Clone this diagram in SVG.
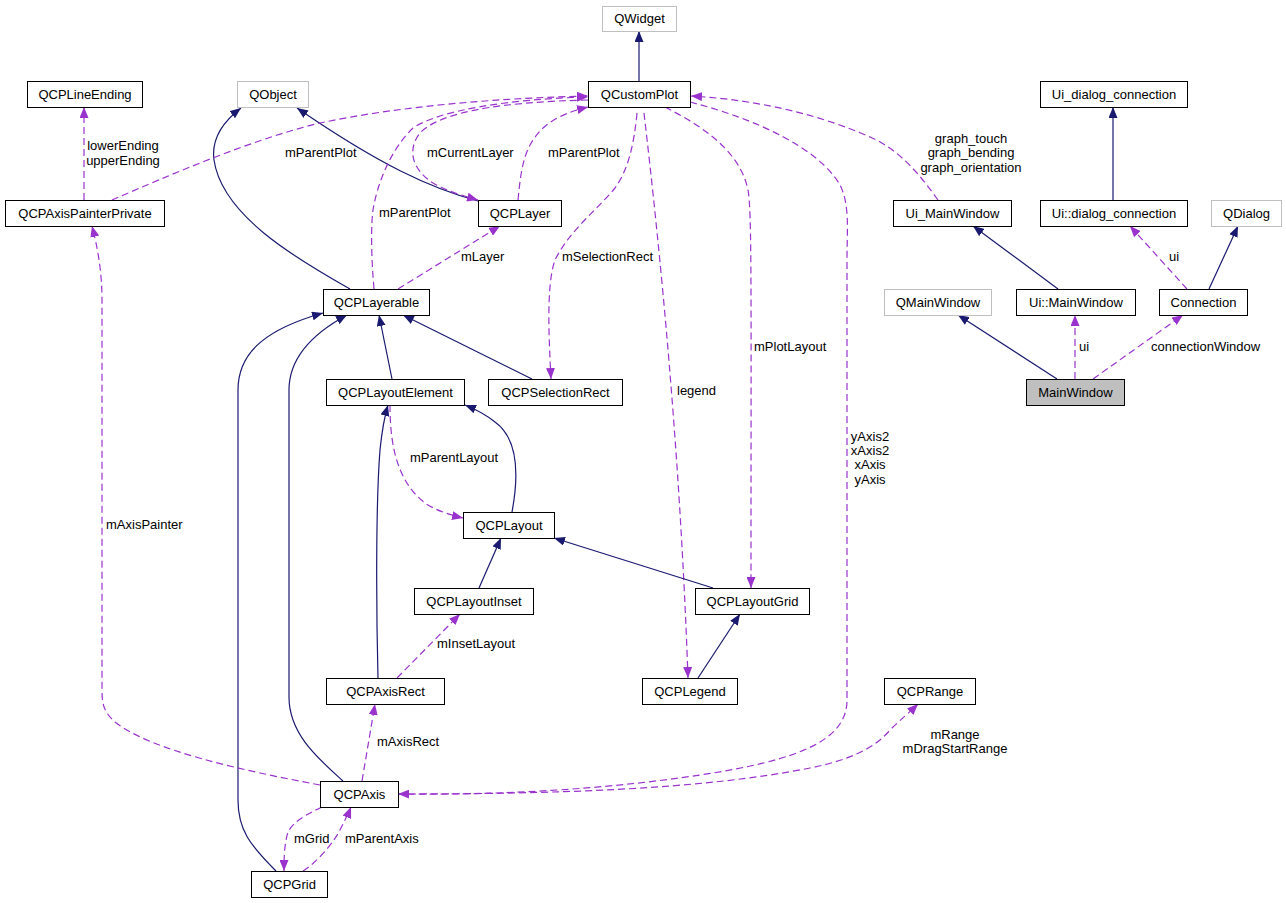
<svg xmlns="http://www.w3.org/2000/svg" width="1286" height="903" viewBox="0 0 1286 903">
<style>
.n rect{fill:#fff;stroke:#000;stroke-width:1}
.n.g rect{stroke:#bfbfbf}
.n.sel rect{fill:#bfbfbf}
text{font-family:"Liberation Sans",Arial,sans-serif;font-size:13px;fill:#000}
.n text{text-anchor:middle}
.inh{fill:none;stroke:#191970;stroke-width:1.2;marker-end:url(#an)}
.use{fill:none;stroke:#9a32cd;stroke-width:1.2;stroke-dasharray:7,4;marker-end:url(#ap)}
.lbl{text-anchor:start}
.lc{text-anchor:middle}
</style>
<defs>
<marker id="an" markerWidth="11" markerHeight="9" refX="11" refY="4.5" orient="auto" markerUnits="userSpaceOnUse"><path d="M0,0 L11,4.5 L0,9 z" fill="#191970"/></marker>
<marker id="ap" markerWidth="11" markerHeight="9" refX="11" refY="4.5" orient="auto" markerUnits="userSpaceOnUse"><path d="M0,0 L11,4.5 L0,9 z" fill="#9a32cd"/></marker>
</defs>
<rect width="1286" height="903" fill="#fff"/>
<g id="connectors">
<path class="inh" d="M639,81 L639,31"/>
<path class="inh" d="M350,289 C295,258 222,215 214,160 C211,138 224,121 241,108"/>
<path class="inh" d="M478,201 C430,188 380,165 297,108"/>
<path class="use" d="M374,289 C371,255 371,225 373,210 C377,185 390,150 413,128 C440,110 510,99 588,97"/>
<path class="use" d="M112,200 C170,175 250,140 320,123 C400,106 500,98 588,96"/>
<path class="use" d="M84,200 L84,107"/>
<path class="use" d="M588,100 C500,102 440,112 420,133 C408,148 410,168 433,183 C445,190 460,195 478,200"/>
<path class="use" d="M518,200 C520,180 522,160 530,145 C540,127 555,115 588,107"/>
<path class="use" d="M398,289 L500,226"/>
<path class="inh" d="M532,379 L403,315"/>
<path class="inh" d="M392,379 L379,315"/>
<path class="use" d="M637,113 C634,145 628,170 615,188 C595,212 570,230 555,260 C546,285 549,340 551,379"/>
<path class="use" d="M644,113 C660,250 680,450 688,678"/>
<path class="use" d="M665,107 C700,125 740,150 748,190 C752,210 751,300 751,588"/>
<path class="use" d="M690,102 C760,120 820,150 840,185 C850,205 847,230 847,260 L847,700 C847,740 800,760 700,775 C600,790 500,795 398,794"/>
<path class="use" d="M938,200 C920,175 900,150 870,137 C820,115 760,100 691,96"/>
<path class="inh" d="M1113,200 L1113,107"/>
<path class="inh" d="M1058,289 L973,226"/>
<path class="inh" d="M1209,289 L1238,226"/>
<path class="use" d="M1187,289 L1130,226"/>
<path class="inh" d="M1057,379 L958,315"/>
<path class="use" d="M1075,379 L1075,315"/>
<path class="use" d="M1093,379 L1183,315"/>
<path class="inh" d="M512,512 C518,480 520,440 495,422 C485,414 475,409 465,405"/>
<path class="use" d="M390,405 C390,440 395,480 425,503 C435,510 450,515 463,518"/>
<path class="inh" d="M479,588 L501,538"/>
<path class="inh" d="M713,588 L554,538"/>
<path class="inh" d="M378,678 C376,600 376,500 380,450 C382,430 385,415 388,405"/>
<path class="use" d="M397,678 L460,614"/>
<path class="inh" d="M698,678 L740,614"/>
<path class="use" d="M362,781 L375,704"/>
<path class="inh" d="M343,781 C320,760 289,735 289,697 L289,390 C289,360 310,335 347,315"/>
<path class="inh" d="M276,871 C250,845 238,830 238,800 L238,390 C238,350 270,328 323,313"/>
<path class="use" d="M320,785 C240,770 150,750 115,722 C104,712 102,705 102,690 L102,300 C102,270 97,245 92,226"/>
<path class="use" d="M322,807 C305,815 293,822 288,832 C284,845 284,860 284,871"/>
<path class="use" d="M303,871 C320,860 335,840 340,830 C345,820 349,812 351,807"/>
<path class="use" d="M398,794 C550,794 700,790 810,768 C850,760 875,748 890,730 C900,720 910,712 918,704"/>
<text class="lbl" x="285" y="157">mParentPlot</text>
<text class="lbl" x="379" y="217">mParentPlot</text>
<text class="lbl" x="427" y="157">mCurrentLayer</text>
<text class="lbl" x="548" y="157">mParentPlot</text>
<text class="lc" x="123" y="150">lowerEnding</text>
<text class="lc" x="123" y="165">upperEnding</text>
<text class="lbl" x="461" y="261">mLayer</text>
<text class="lbl" x="562" y="261">mSelectionRect</text>
<text class="lbl" x="677" y="395">legend</text>
<text class="lbl" x="754" y="351">mPlotLayout</text>
<text class="lc" x="870" y="441">yAxis2</text>
<text class="lc" x="870" y="455">xAxis2</text>
<text class="lc" x="870" y="469">xAxis</text>
<text class="lc" x="870" y="484">yAxis</text>
<text class="lc" x="971" y="143">graph_touch</text>
<text class="lc" x="971" y="157">graph_bending</text>
<text class="lc" x="971" y="172">graph_orientation</text>
<text class="lbl" x="1169" y="261">ui</text>
<text class="lbl" x="1079" y="351">ui</text>
<text class="lbl" x="1151" y="351">connectionWindow</text>
<text class="lbl" x="410" y="462">mParentLayout</text>
<text class="lbl" x="106" y="529">mAxisPainter</text>
<text class="lbl" x="437" y="648">mInsetLayout</text>
<text class="lbl" x="377" y="746">mAxisRect</text>
<text class="lc" x="955" y="739">mRange</text>
<text class="lc" x="955" y="753">mDragStartRange</text>
<text class="lbl" x="294" y="843">mGrid</text>
<text class="lbl" x="345" y="843">mParentAxis</text>
</g>
<g id="QWidget" class="n g"><rect x="602.5" y="6.5" width="74" height="25"/><text x="639.5" y="23">QWidget</text></g>
<g id="QCustomPlot" class="n"><rect x="588.5" y="81.5" width="102" height="26"/><text x="639.5" y="99">QCustomPlot</text></g>
<g id="QCPLineEnding" class="n"><rect x="27.5" y="81.5" width="115" height="26"/><text x="85" y="99">QCPLineEnding</text></g>
<g id="QObject" class="n g"><rect x="237.5" y="81.5" width="71" height="26"/><text x="273" y="99">QObject</text></g>
<g id="Ui_dialog_connection" class="n"><rect x="1040.5" y="81.5" width="147" height="26"/><text x="1114" y="99">Ui_dialog_connection</text></g>
<g id="QCPAxisPainterPrivate" class="n"><rect x="5.5" y="200.5" width="159" height="26"/><text x="85" y="218">QCPAxisPainterPrivate</text></g>
<g id="QCPLayer" class="n"><rect x="478.5" y="200.5" width="83" height="26"/><text x="520" y="218">QCPLayer</text></g>
<g id="Ui_MainWindow" class="n"><rect x="893.5" y="200.5" width="118" height="26"/><text x="952.5" y="218">Ui_MainWindow</text></g>
<g id="Ui_dialog_connection2" class="n"><rect x="1040.5" y="200.5" width="147" height="26"/><text x="1114" y="218">Ui::dialog_connection</text></g>
<g id="QDialog" class="n g"><rect x="1211.5" y="200.5" width="70" height="26"/><text x="1246.5" y="218">QDialog</text></g>
<g id="QCPLayerable" class="n"><rect x="323.5" y="289.5" width="106" height="26"/><text x="376.5" y="307">QCPLayerable</text></g>
<g id="QMainWindow" class="n g"><rect x="884.5" y="289.5" width="107" height="26"/><text x="938" y="307">QMainWindow</text></g>
<g id="Ui_MainWindow2" class="n"><rect x="1016.5" y="289.5" width="119" height="26"/><text x="1076" y="307">Ui::MainWindow</text></g>
<g id="Connection" class="n"><rect x="1159.5" y="289.5" width="88" height="26"/><text x="1203.5" y="307">Connection</text></g>
<g id="QCPLayoutElement" class="n"><rect x="326.5" y="379.5" width="138" height="26"/><text x="395.5" y="397">QCPLayoutElement</text></g>
<g id="QCPSelectionRect" class="n"><rect x="488.5" y="379.5" width="134" height="26"/><text x="555.5" y="397">QCPSelectionRect</text></g>
<g id="MainWindow" class="n sel"><rect x="1026.5" y="379.5" width="98" height="26"/><text x="1075.5" y="397">MainWindow</text></g>
<g id="QCPLayout" class="n"><rect x="463.5" y="512.5" width="91" height="26"/><text x="509" y="530">QCPLayout</text></g>
<g id="QCPLayoutInset" class="n"><rect x="414.5" y="588.5" width="119" height="26"/><text x="474" y="606">QCPLayoutInset</text></g>
<g id="QCPLayoutGrid" class="n"><rect x="695.5" y="588.5" width="114" height="26"/><text x="752.5" y="606">QCPLayoutGrid</text></g>
<g id="QCPAxisRect" class="n"><rect x="326.5" y="678.5" width="118" height="26"/><text x="385.5" y="696">QCPAxisRect</text></g>
<g id="QCPLegend" class="n"><rect x="642.5" y="678.5" width="95" height="26"/><text x="690" y="696">QCPLegend</text></g>
<g id="QCPRange" class="n"><rect x="884.5" y="678.5" width="91" height="26"/><text x="930" y="696">QCPRange</text></g>
<g id="QCPAxis" class="n"><rect x="320.5" y="781.5" width="78" height="26"/><text x="359.5" y="799">QCPAxis</text></g>
<g id="QCPGrid" class="n"><rect x="251.5" y="871.5" width="76" height="26"/><text x="289.5" y="889">QCPGrid</text></g>
</svg>
